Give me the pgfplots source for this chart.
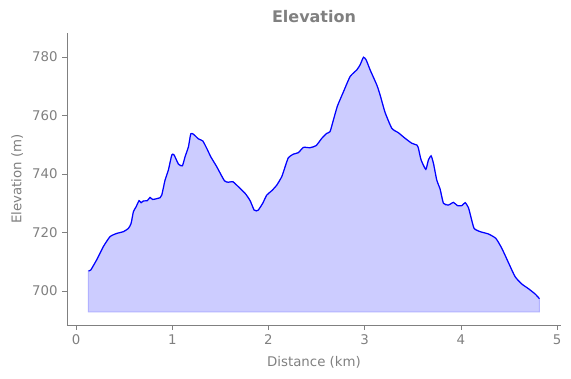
\documentclass[border=0pt]{standalone}
\usepackage{pgfplots}
\pgfplotsset{compat=1.18}
\usepackage{fontspec}
\setmainfont{DejaVu Sans}
\usetikzlibrary{calc}
\definecolor{txtgray}{RGB}{128,128,128}
\pgfplotstableread{
x y
0.128 706.9
0.153 707.2
0.220 711.0
0.284 715.2
0.353 718.6
0.423 719.7
0.492 720.3
0.544 721.4
0.572 723.1
0.596 727.1
0.624 728.8
0.655 730.9
0.676 730.2
0.700 730.8
0.741 730.9
0.769 732.0
0.797 731.3
0.873 731.9
0.891 732.8
0.925 737.9
0.960 741.4
0.995 746.5
1.019 746.5
1.064 743.4
1.105 742.8
1.133 745.9
1.168 749.3
1.192 753.7
1.220 753.6
1.272 752.0
1.317 751.3
1.358 748.8
1.400 745.9
1.462 742.5
1.542 737.7
1.583 737.2
1.629 737.4
1.670 736.2
1.757 733.4
1.809 730.9
1.850 727.7
1.875 727.4
1.895 727.7
1.940 730.0
1.982 732.8
2.034 734.3
2.086 736.2
2.138 739.1
2.173 742.5
2.207 745.6
2.259 746.8
2.311 747.3
2.363 749.1
2.432 749.0
2.495 749.7
2.554 752.2
2.606 753.9
2.640 754.5
2.675 758.5
2.716 763.2
2.779 768.1
2.848 773.3
2.918 775.6
2.952 777.3
2.987 779.9
3.015 779.0
3.056 775.6
3.126 770.4
3.160 767.0
3.212 761.0
3.282 755.6
3.350 754.1
3.420 752.2
3.490 750.5
3.542 749.9
3.558 748.8
3.586 744.8
3.635 741.6
3.662 744.8
3.690 746.2
3.714 743.7
3.749 737.9
3.784 734.8
3.818 730.0
3.870 729.4
3.922 730.3
3.964 729.2
4.009 729.2
4.044 730.2
4.078 728.5
4.103 725.4
4.137 721.4
4.200 720.3
4.286 719.5
4.363 718.0
4.425 714.6
4.494 709.7
4.563 704.9
4.633 702.4
4.702 700.8
4.771 699.0
4.816 697.4
}\elev
\begin{document}
\begin{tikzpicture}
\begin{axis}[
  name=ax,
  scale only axis,
  width=370.5pt, height=219pt,
  xmin=-0.094, xmax=5.04,
  ymin=688.4, ymax=788.2,
  xtick={0,1,2,3,4,5},
  ytick={700,720,740,760,780},
  axis x line*=bottom, axis y line*=left,
  axis line style={draw=txtgray, -},
  tick style={draw=txtgray, line width=0.6pt},
  tick align=outside, major tick length=3.5pt,
  ticklabel style={font=\fontsize{10}{12}\selectfont, text=txtgray},
  /pgf/number format/assume math mode=true,
  /pgf/number format/1000 sep={},
  xlabel={Distance (km)}, ylabel={Elevation (m)},
  label style={font=\fontsize{10}{12}\selectfont, text=txtgray},
  xlabel style={yshift=-2pt},
  title={Elevation},
  title style={font=\fontsize{12}{14}\bfseries, text=txtgray, yshift=-2pt},
]
\addplot[fill=blue!20, draw=blue!30, line width=0.8pt] table[x=x,y=y] {\elev} -- (axis cs:4.816,692.9) -- (axis cs:0.128,692.9) -- cycle;
\addplot[blue, line width=0.9pt, mark=none, smooth, tension=0.35] table[x=x,y=y] {\elev};
\end{axis}
\pgfresetboundingbox
\path[use as bounding box] ($(ax.south west)+(-50.25pt,-39.75pt)$) rectangle ($(ax.north east)+(7.5pt,24.75pt)$);
\end{tikzpicture}
\end{document}
